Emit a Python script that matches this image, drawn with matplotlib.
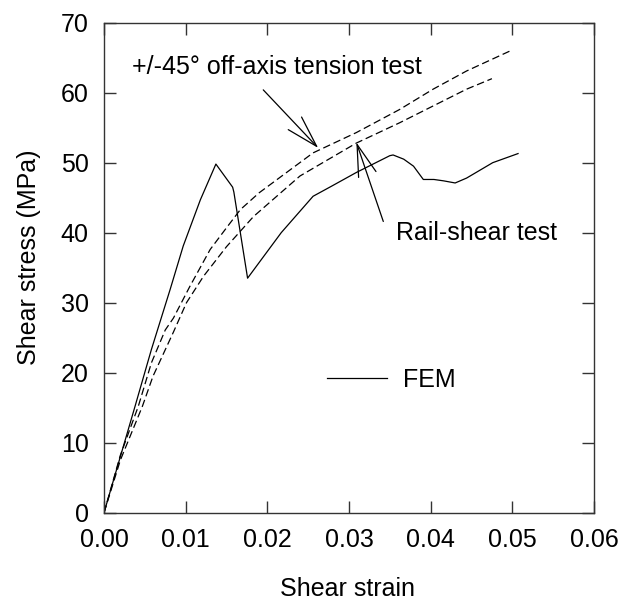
import matplotlib
matplotlib.use("Agg")
import matplotlib.pyplot as plt
from matplotlib.ticker import FormatStrFormatter

plt.rcParams['font.family'] = ['Liberation Sans', 'DejaVu Sans']

# FEM result (solid)
fem_strain = [0.0, 0.0038, 0.0058, 0.0081, 0.0097, 0.0118, 0.0137, 0.01575, 0.0159,
              0.01758, 0.0217, 0.0256, 0.0278, 0.0309, 0.0350, 0.0354, 0.0367, 0.0379,
              0.0391, 0.0404, 0.0416, 0.0430, 0.0444, 0.0476, 0.0507]
fem_stress = [0.0, 15.2, 23.3, 31.9, 38.1, 44.7, 49.8, 46.5, 45.8,
              33.5, 40.0, 45.2, 46.6, 48.6, 51.0, 51.1, 50.5, 49.5,
              47.6, 47.6, 47.4, 47.1, 47.8, 50.0, 51.3]

# +/-45 off-axis tension test (upper dashed)
offaxis_strain = [0.0, 0.002, 0.0042, 0.0058, 0.0075, 0.0085, 0.0105, 0.013, 0.015,
                  0.0167, 0.019, 0.0256, 0.0309, 0.0362, 0.0403, 0.0444, 0.0498]
offaxis_stress = [0.0, 8.2, 15.2, 21.4, 26.1, 27.8, 32.3, 37.6, 40.7,
                  43.3, 45.7, 51.4, 54.3, 57.6, 60.5, 63.1, 66.0]

# Rail-shear test (lower dashed)
rail_strain = [0.0, 0.002, 0.0047, 0.006, 0.0085, 0.0101, 0.0122, 0.015, 0.0183,
               0.024, 0.0309, 0.0362, 0.0403, 0.0444, 0.0475]
rail_stress = [0.0, 7.5, 15.2, 19.5, 25.8, 30.0, 33.8, 38.0, 42.3,
               48.1, 52.8, 55.7, 58.1, 60.5, 62.0]

x_ticks = [0.0, 0.01, 0.02, 0.03, 0.04, 0.05, 0.06]
y_ticks = [0, 10, 20, 30, 40, 50, 60, 70]

fig = plt.figure(figsize=(6.21, 6.03), dpi=100)
ax = fig.add_axes([0.1675, 0.1498, 0.789, 0.8126])

fem_line, = ax.plot(fem_strain, fem_stress, color='black', lw=0.9)
ax.plot(offaxis_strain, offaxis_stress, color='black', lw=0.9, dashes=(6, 3))
ax.plot(rail_strain, rail_stress, color='black', lw=0.9, dashes=(6, 3))

ax.set_xlim(0, 0.06)
ax.set_ylim(0, 70)
ax.set_xticks(x_ticks)
ax.set_yticks(y_ticks)
ax.xaxis.set_major_formatter(FormatStrFormatter('%.2f'))
ax.tick_params(direction='in', length=8.6, width=1, top=True, right=True,
               labelsize=18, color='#333333')
ax.tick_params(axis='x', pad=11)
ax.tick_params(axis='y', pad=11)
for s in ax.spines.values():
    s.set_color('#333333')
    s.set_linewidth(1.0)

ax.set_xlabel('Shear strain', fontsize=18)
ax.set_ylabel('Shear stress (MPa)', fontsize=18)
ax.xaxis.set_label_coords(0.497, -0.131)
ax.yaxis.set_label_coords(-0.128, 0.521)

# annotations
arrow = dict(arrowstyle='->, head_length=1.14, head_width=0.33', color='black',
             lw=0.9, mutation_scale=20, shrinkA=0, shrinkB=0)
ax.text(0.00343, 62.6, '+/-45° off-axis tension test', fontsize=18, va='baseline')
ax.annotate('', xy=(0.02623, 52.1), xytext=(0.0195, 60.4), arrowprops=arrow)
ax.text(0.03574, 39.0, 'Rail-shear test', fontsize=18, va='baseline')
ax.annotate('', xy=(0.0309, 52.9), xytext=(0.0342, 41.6), arrowprops=arrow)

ax.legend([fem_line], ['FEM'], loc='center left', bbox_to_anchor=(0.4545, 0.271),
          frameon=False, fontsize=18, handlelength=2.4, handletextpad=0.66,
          borderpad=0, borderaxespad=0)

fig.savefig('out.png', dpi=100)
